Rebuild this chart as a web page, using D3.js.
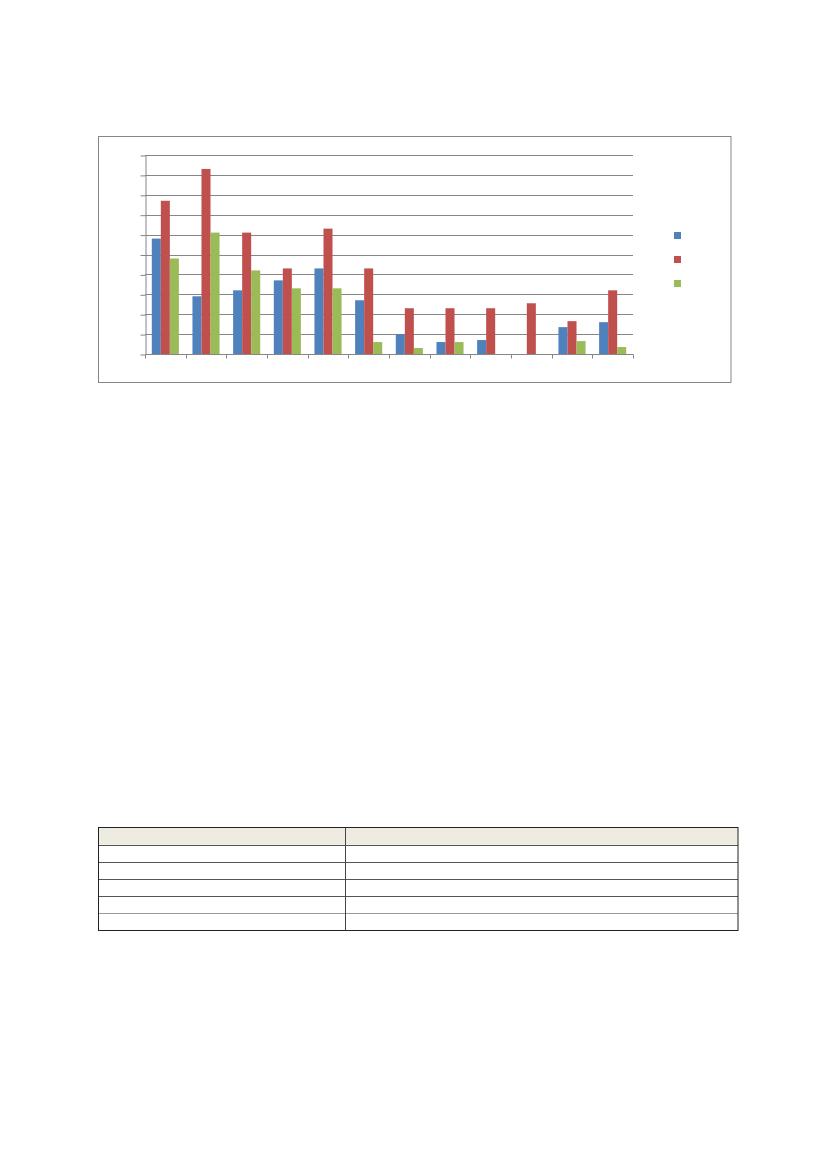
<!DOCTYPE html>
<html>
<head>
<meta charset="utf-8">
<script src="https://cdn.jsdelivr.net/npm/d3@7"></script>
<style>
  body { margin: 0; background: #fff; }
  svg { display: block; }
</style>
</head>
<body>
<svg id="svg" width="827" height="1169"></svg>
<script>
// chart values (grid units, 10 divisions)
const categories = ['c1', 'c2', 'c3', 'c4', 'c5', 'c6', 'c7', 'c8', 'c9', 'c10', 'c11', 'c12'];
const seriesKeys = ['s1', 's2', 's3'];
const blueValues = [5.8, 2.9, 3.2, 3.7, 4.3, 2.7, 1.0, 0.6, 0.7, 0, 1.35, 1.6];
const redValues = [7.7, 9.3, 6.1, 4.3, 6.3, 4.3, 2.3, 2.3, 2.3, 2.55, 1.65, 3.2];
const greenValues = [4.8, 6.1, 4.2, 3.3, 3.3, 0.6, 0.3, 0.6, 0, 0, 0.65, 0.35];
const yTicks = [0, 1, 2, 3, 4, 5, 6, 7, 8, 9, 10];
const tableRows = 6;

const colors = ['#4f81bd', '#c0504d', '#9bbb59'];
const gridColor = '#868686';

const svg = d3.select('#svg');

// outer chart frame
svg.append('rect')
  .attr('x', 98.5)
  .attr('y', 136.5)
  .attr('width', 632.5)
  .attr('height', 246)
  .attr('fill', '#fff')
  .attr('stroke', gridColor)
  .attr('stroke-width', 1);

const plot = { left: 145, right: 633, top: 155, bottom: 354 };

const x = d3.scaleBand()
  .domain(categories)
  .range([plot.left, plot.right]);

const x1 = d3.scaleBand()
  .domain(seriesKeys)
  .range([x.bandwidth() * 0.167, x.bandwidth() * 0.833]);

const y = d3.scaleLinear()
  .domain([0, 10])
  .range([plot.bottom, plot.top]);

// horizontal gridlines
svg.append('g')
  .selectAll('line')
  .data(yTicks.slice(1))
  .enter()
  .append('line')
  .attr('x1', plot.left)
  .attr('x2', plot.right)
  .attr('y1', d => Math.round(y(d)) + 0.5)
  .attr('y2', d => Math.round(y(d)) + 0.5)
  .attr('stroke', gridColor)
  .attr('stroke-width', 1);

// value axis
const yAxis = svg.append('g')
  .attr('transform', `translate(${plot.left + 0.5},0.5)`)
  .call(d3.axisLeft(y).tickValues(yTicks).tickSizeInner(5).tickSizeOuter(0).tickFormat(''));
yAxis.selectAll('line, path').attr('stroke', gridColor);

// bars
const series = [blueValues, redValues, greenValues];
series.forEach((values, s) => {
  svg.append('g')
    .selectAll('rect')
    .data(values)
    .enter()
    .append('rect')
    .attr('x', (d, i) => x(categories[i]) + x1(seriesKeys[s]))
    .attr('y', d => y(d))
    .attr('width', x1.bandwidth())
    .attr('height', d => y(0) - y(d))
    .attr('fill', colors[s]);
});

// category axis with ticks at band edges
const edges = categories.map(c => x(c)).concat([plot.right]);
const xAxis = svg.append('g')
  .attr('transform', `translate(0.5,${plot.bottom + 0.5})`)
  .call(d3.axisBottom(d3.scaleLinear().domain([0, 1]).range([0, 1]))
    .tickValues([]).tickSizeOuter(0));
xAxis.select('path')
  .attr('d', `M${plot.left},0H${plot.right}`)
  .attr('stroke', gridColor);
xAxis.selectAll('.edge')
  .data(edges)
  .enter()
  .append('line')
  .attr('class', 'edge')
  .attr('x1', d => Math.round(d))
  .attr('x2', d => Math.round(d))
  .attr('y1', 0)
  .attr('y2', 4)
  .attr('stroke', gridColor);

// legend keys
svg.append('g')
  .selectAll('rect')
  .data(seriesKeys)
  .enter()
  .append('rect')
  .attr('x', 674)
  .attr('y', (d, i) => 232 + i * 24)
  .attr('width', 7)
  .attr('height', 7)
  .attr('fill', (d, i) => colors[i]);

// table below
const table = svg.append('g');
const rowY = d3.scaleLinear().domain([0, tableRows]).range([827.5, 930.5]);

table.append('rect')
  .attr('x', 98)
  .attr('y', rowY(0))
  .attr('width', 640)
  .attr('height', rowY(1) - rowY(0))
  .attr('fill', '#eeece1');

table.selectAll('line.row')
  .data(d3.range(1, tableRows))
  .enter()
  .append('line')
  .attr('class', 'row')
  .attr('x1', 98)
  .attr('x2', 738)
  .attr('y1', d => Math.round(rowY(d)) + 0.5)
  .attr('y2', d => Math.round(rowY(d)) + 0.5)
  .attr('stroke', d => (d === 5 ? '#9a9a9a' : '#555'))
  .attr('stroke-width', 1);

table.append('line')
  .attr('x1', 98).attr('x2', 738)
  .attr('y1', 827.5).attr('y2', 827.5)
  .attr('stroke', '#999');

table.append('rect')
  .attr('x', 98.5)
  .attr('y', 827.5)
  .attr('width', 639.5)
  .attr('height', 103)
  .attr('fill', 'none')
  .attr('stroke', '#222')
  .attr('stroke-width', 1);

table.append('line')
  .attr('x1', 345.5).attr('x2', 345.5)
  .attr('y1', 827.5).attr('y2', 930.5)
  .attr('stroke', '#444');
</script>
</body>
</html>
